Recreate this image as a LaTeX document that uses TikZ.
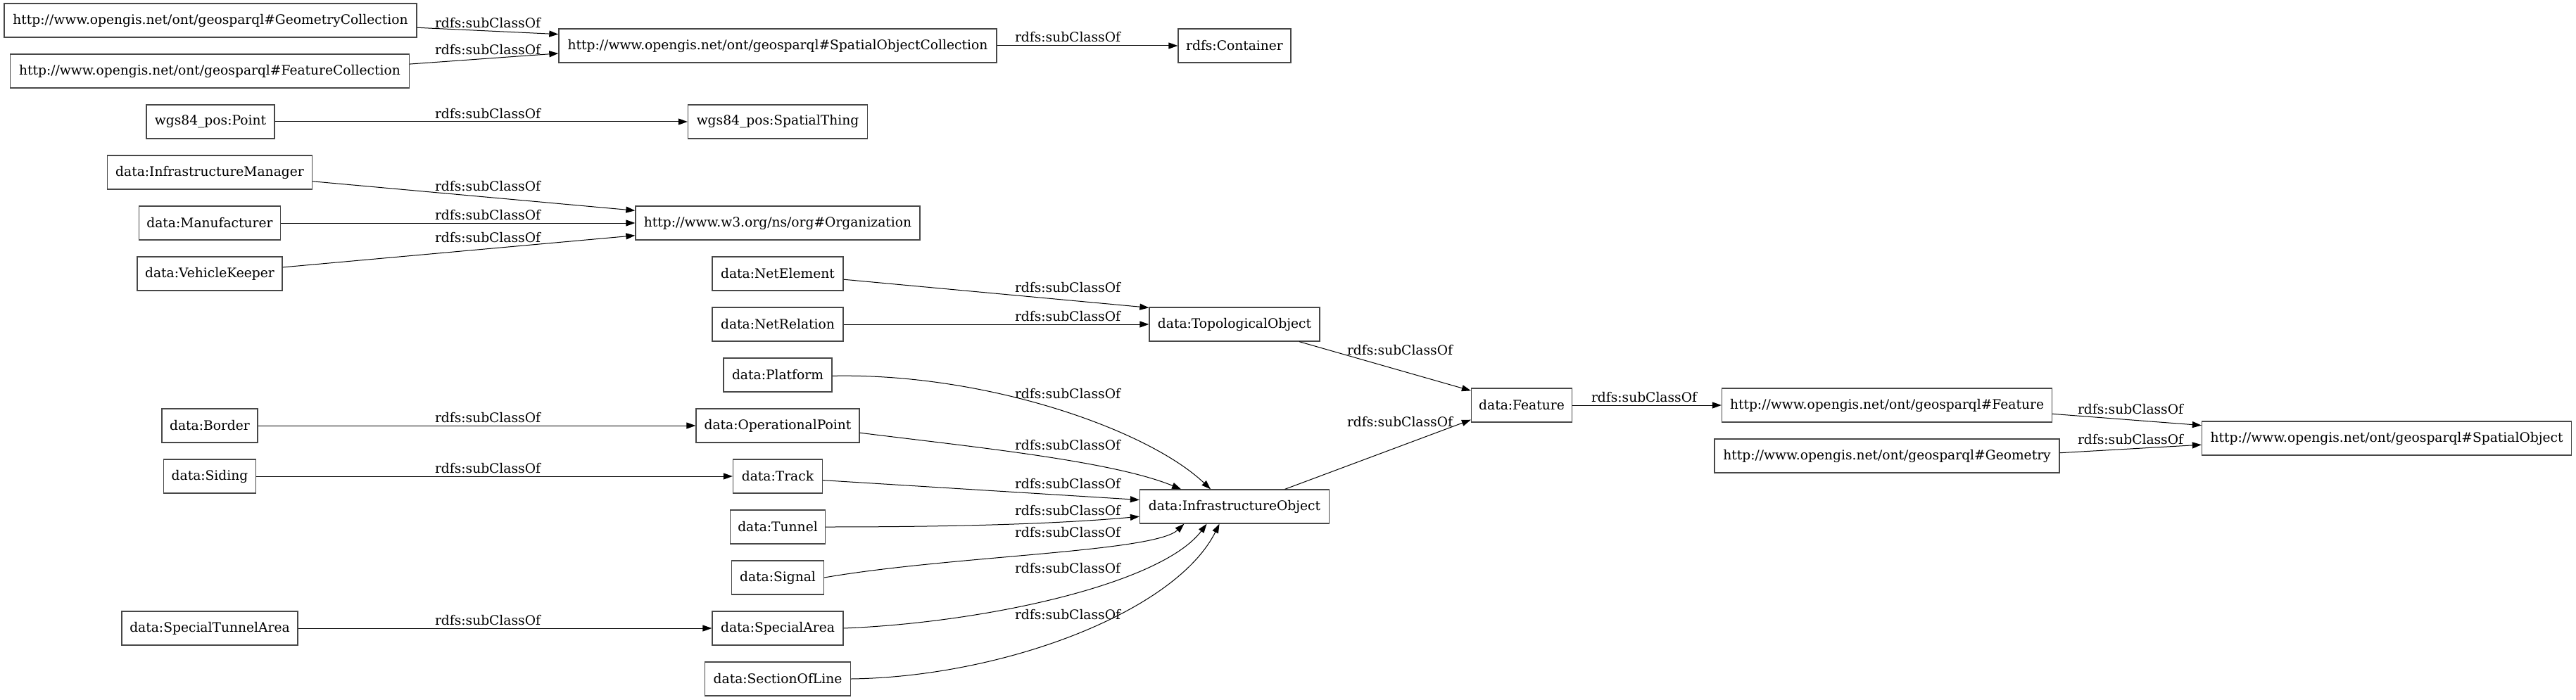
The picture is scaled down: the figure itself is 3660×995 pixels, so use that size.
\documentclass[tikz,border=0pt]{standalone}
\usepackage{fontspec}
\setmainfont{DejaVu Serif}
\usetikzlibrary{arrows.meta}

\tikzset{
  cls/.style={draw=black!72, line width=1pt, rectangle, minimum height=36pt,
    inner xsep=2pt, inner ysep=0pt, font=\fontsize{14}{16}\selectfont},
  boxw/.style={minimum width=#1*0.75pt},
  lbl/.style={inner sep=0pt, font=\fontsize{14}{16}\selectfont},
  sub/.style={draw=black, line width=0.75pt, -{Triangle[length=9.75pt,width=6.75pt]}}
}

\begin{document}
\begin{tikzpicture}[x=0.75pt,y=-0.75pt]
        \useasboundingbox (0,0) rectangle (3660,995);
        % left column
        \node[cls,boxw=586] (gcoll) at (299,29) {http://www.opengis.net/ont/geosparql\#GeometryCollection};
        \node[cls,boxw=567] (fcoll) at (298,101) {http://www.opengis.net/ont/geosparql\#FeatureCollection};
        \node[cls,boxw=182] (wpoint) at (299,173) {wgs84\_pos:Point};
        \node[cls,boxw=291] (infman) at (298,245) {data:InfrastructureManager};
        \node[cls,boxw=201] (manuf) at (298,317) {data:Manufacturer};
        \node[cls,boxw=206] (vkeep) at (298,389) {data:VehicleKeeper};
        \node[cls,boxw=136] (border) at (298,605) {data:Border};
        \node[cls,boxw=131] (siding) at (298,677) {data:Siding};
        \node[cls,boxw=250] (stunarea) at (298,893) {data:SpecialTunnelArea};
        % middle column
        \node[cls,boxw=622] (socoll) at (1105,65) {http://www.opengis.net/ont/geosparql\#SpatialObjectCollection};
        \node[cls,boxw=255] (wthing) at (1105,173) {wgs84\_pos:SpatialThing};
        \node[cls,boxw=404] (org) at (1105,317) {http://www.w3.org/ns/org\#Organization};
        \node[cls,boxw=186] (netel) at (1105,389) {data:NetElement};
        \node[cls,boxw=186] (netrel) at (1105,461) {data:NetRelation};
        \node[cls,boxw=154] (platf) at (1105,533) {data:Platform};
        \node[cls,boxw=232] (oppoint) at (1105,605) {data:OperationalPoint};
        \node[cls,boxw=127] (track) at (1105,677) {data:Track};
        \node[cls,boxw=135] (tunnel) at (1105,749) {data:Tunnel};
        \node[cls,boxw=131] (signal) at (1105,821) {data:Signal};
        \node[cls,boxw=186] (sarea) at (1105,893) {data:SpecialArea};
        \node[cls,boxw=207] (secline) at (1105,965) {data:SectionOfLine};
        % right part
        \node[cls,boxw=160] (contnr) at (1754,65) {rdfs:Container};
        \node[cls,boxw=242] (topo) at (1754,461) {data:TopologicalObject};
        \node[cls,boxw=269] (infobj) at (1754,720) {data:InfrastructureObject};
        \node[cls,boxw=143] (feat) at (2162,576) {data:Feature};
        \node[cls,boxw=469] (gfeat) at (2681,576) {http://www.opengis.net/ont/geosparql\#Feature};
        \node[cls,boxw=490] (geom) at (2681,648) {http://www.opengis.net/ont/geosparql\#Geometry};
        \node[cls,boxw=525] (spobj) at (3391,623) {http://www.opengis.net/ont/geosparql\#SpatialObject};

        % straight edges
        \draw[sub] (gcoll.-2.5) -- (socoll.177.6);
        \draw[sub] (fcoll.2.6) -- (socoll.182.4);
        \draw[sub] (socoll) -- (contnr);
        \draw[sub] (wpoint) -- (wthing);
        \draw[sub] (infman.-5) -- (org.175.5);
        \draw[sub] (manuf) -- (org);
        \draw[sub] (vkeep.5.5) -- (org.185.4);
        \draw[sub] (netel.-5.5) -- (topo.169.5);
        \draw[sub] (netrel) -- (topo);
        \draw[sub] (border) -- (oppoint);
        \draw[sub] (siding) -- (track);
        \draw[sub] (stunarea) -- (sarea);
        \draw[sub] (track.-5) -- (infobj.176);
        \draw[sub] (topo.-15.4) -- (feat.164.4);
        \draw[sub] (infobj.19.4) -- (feat.196);
        \draw[sub] (feat) -- (gfeat);
        \draw[sub] (gfeat.-3.7) -- (spobj.176.3);
        \draw[sub] (geom.1.4) -- (spobj.182.6);
        % curved edges
        \draw[sub] (platf.-1) .. controls (1400,530) and (1630,610) .. (infobj.144);
        \draw[sub] (oppoint.-5) .. controls (1380,635) and (1580,655) .. (infobj.162.7);
        \draw[sub] (tunnel.east) .. controls (1350,749) and (1500,745) .. (infobj.186);
        \draw[sub] (signal.east) .. controls (1350,790) and (1640,785) .. (infobj.199);
        \draw[sub] (sarea.east) .. controls (1400,885) and (1650,830) .. (infobj.212);
        \draw[sub] (secline.east) .. controls (1425,962) and (1670,870) .. (infobj.229);

        % edge labels
        \foreach \lx/\ly [count=\i] in {693/33, 693/71, 1517/53, 693/162, 693/265, 693/306, 693/338,
            1517/409, 1517/450, 1517/560, 1517/633, 1517/688, 1517/726, 1517/757, 1517/808, 1517/874,
            1989/498, 1989/600, 2336/565, 3027/582, 3027/625, 693/594, 693/666, 693/882}
        \node[lbl] (lab\i) at (\lx,\ly) {rdfs:subClassOf};
    \end{tikzpicture}
\end{document}
